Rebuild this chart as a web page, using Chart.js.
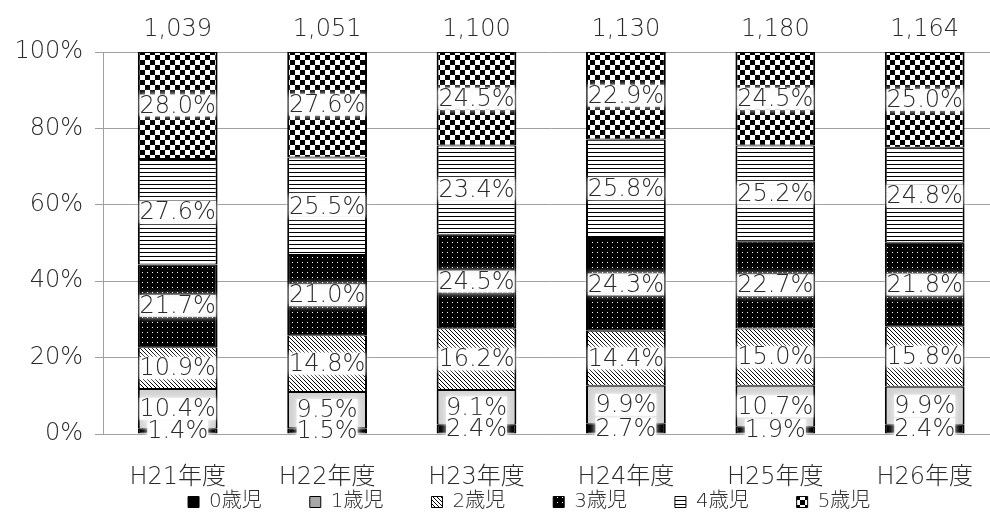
<!DOCTYPE html>
<html><head><meta charset="utf-8">
<style>html,body{margin:0;padding:0;background:#fff;overflow:hidden;} #wrap{width:1002px;height:516px;}</style>
<script src="https://cdn.jsdelivr.net/npm/chart.js@4"></script>
</head><body><div id="wrap"><canvas id="c" width="1002" height="516"></canvas></div>
<script>
const categories = ['H21年度','H22年度','H23年度','H24年度','H25年度','H26年度'];
const totals = ['1,039','1,051','1,100','1,130','1,180','1,164'];
const seriesNames = ['0歳児','1歳児','2歳児','3歳児','4歳児','5歳児'];
const age0 = [1.4, 1.5, 2.4, 2.7, 1.9, 2.4];
const age1 = [10.4, 9.5, 9.1, 9.9, 10.7, 9.9];
const age2 = [10.9, 14.8, 16.2, 14.4, 15.0, 15.8];
const age3 = [21.7, 21.0, 24.5, 24.3, 22.7, 21.8];
const age4 = [27.6, 25.5, 23.4, 25.8, 25.2, 24.8];
const age5 = [28.0, 27.6, 24.5, 22.9, 24.5, 25.0];
const yTicks = [0, 20, 40, 60, 80, 100];

const raw = [age0, age1, age2, age3, age4, age5];
const sums = categories.map((_, i) => raw.reduce((s, a) => s + a[i], 0));

const canvas = document.getElementById('c');
const mainCtx = canvas.getContext('2d');
function pat(w, h, draw) {
  const c = document.createElement('canvas'); c.width = w; c.height = h;
  const x = c.getContext('2d'); x.fillStyle = '#fff'; x.fillRect(0, 0, w, h); x.fillStyle = '#000';
  draw(x); return mainCtx.createPattern(c, 'repeat');
}
const fills = [
  '#000000',
  '#d2d2d2',
  pat(4, 4, x => { for (let i = 0; i < 4; i++) x.fillRect(i, i, 1, 1); }),
  pat(5, 5, x => { x.fillRect(0, 0, 5, 5); x.fillStyle = '#fff'; x.fillRect(2, 2, 1, 1); }),
  pat(4, 4, x => { x.fillRect(0, 0, 4, 1); }),
  pat(10, 10, x => { x.fillRect(0, 0, 5, 5); x.fillRect(5, 5, 5, 5); })
];

const FONT = "'DejaVu Sans', 'Noto Sans CJK JP', sans-serif";
const TXT = '#2a2a2a';

const labelPlugin = {
  id: 'segLabels',
  afterDatasetsDraw(chart) {
    const ctx = chart.ctx;
    ctx.save();
    ctx.font = "200 24px " + FONT;
    ctx.textAlign = 'center'; ctx.textBaseline = 'middle';
    for (let di = chart.data.datasets.length - 1; di >= 0; di--) {
      const meta = chart.getDatasetMeta(di);
      meta.data.forEach((el, i) => {
        const p = el.getProps(['x', 'y', 'base'], true);
        const cy = (p.y + p.base) / 2;
        const txt = raw[di][i].toFixed(1) + '%';
        const w = ctx.measureText(txt).width;
        ctx.save();
        ctx.shadowColor = '#fff'; ctx.shadowBlur = 6;
        ctx.fillStyle = 'rgba(255,255,255,0.92)';
        ctx.fillRect(p.x - w / 2, cy - 11, w, 22);
        ctx.restore();
        ctx.fillStyle = TXT;
        ctx.fillText(txt, p.x, cy + 1);
      });
    }
    const ys = chart.scales.y;
    chart.getDatasetMeta(0).data.forEach((el, i) => {
      ctx.fillText(totals[i], el.x, ys.getPixelForValue(100) - 22);
    });
    ctx.restore();
  }
};

new Chart(canvas, {
  type: 'bar',
  data: {
    labels: categories,
    datasets: raw.map((arr, di) => ({
      label: seriesNames[di],
      data: arr.map((v, i) => v / sums[i] * 100),
      backgroundColor: fills[di],
      borderColor: '#000',
      borderWidth: { top: 1, bottom: 1, left: 2, right: 2 },
      borderSkipped: false,
      barPercentage: 0.534,
      categoryPercentage: 1.0
    }))
  },
  options: {
    responsive: false,
    animation: false,
    devicePixelRatio: 1,
    layout: { padding: { top: 52, left: 0, right: 0, bottom: 0 } },
    plugins: {
      legend: {
        position: 'bottom', fullSize: false, maxHeight: 28,
        labels: {
          font: { size: 20, family: FONT, weight: '200' }, color: TXT, boxWidth: 11, boxHeight: 11, padding: 4,
          generateLabels: chart => Chart.defaults.plugins.legend.labels.generateLabels(chart)
            .map((l, i) => Object.assign(l, {
              text: l.text + '\u3000\u3000\u2009',
              lineWidth: 1,
              fillStyle: i === 1 ? '#a8a8a8' : l.fillStyle
            }))
        }
      },
      tooltip: { enabled: false }
    },
    scales: {
      x: {
        stacked: true,
        grid: { display: false, drawTicks: false },
        border: { display: false },
        afterFit: s => { s.height = 54; },
        ticks: { font: { size: 24, family: FONT, weight: '200' }, color: TXT, padding: 29 }
      },
      y: {
        stacked: true, min: 0, max: 100,
        afterBuildTicks: s => { s.ticks = yTicks.map(v => ({ value: v })); },
        afterFit: s => { s.width = 103; },
        ticks: { font: { size: 24, family: FONT, weight: '200' }, color: TXT, padding: 12, callback: v => v + '%' },
        grid: { color: '#a0a0a0', tickLength: 8 },
        border: { color: '#a0a0a0' }
      }
    }
  },
  plugins: [labelPlugin]
});
</script>
</body></html>
